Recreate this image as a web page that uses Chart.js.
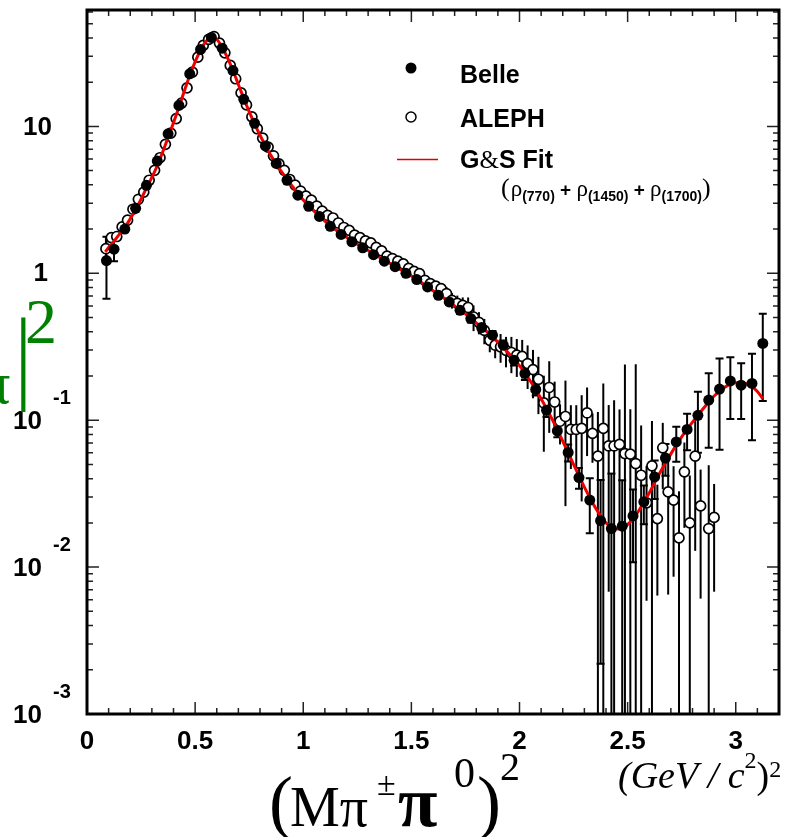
<!DOCTYPE html>
<html><head><meta charset="utf-8">
<script src="https://cdn.jsdelivr.net/npm/chart.js@4.4.0/dist/chart.umd.min.js"></script>
<style>html,body{margin:0;padding:0;background:#fff}#wrap{width:804px;height:837px;position:relative}</style>
</head><body><div id="wrap"><canvas id="c"></canvas></div>
<script>
// ---- data ----
const belleX = [0.09,0.125,0.175,0.225,0.275,0.325,0.375,0.425,0.475,0.525,0.575,0.625,0.675,0.725,0.775,0.825,0.875,0.925,0.975,1.025,1.075,1.125,1.175,1.225,1.275,1.325,1.375,1.425,1.475,1.525,1.575,1.625,1.675,1.725,1.775,1.825,1.875,1.925,1.975,2.025,2.075,2.125,2.175,2.225,2.275,2.325,2.375,2.425,2.475,2.525,2.575,2.625,2.675,2.725,2.775,2.825,2.875,2.925,2.975,3.025,3.075,3.125];
const belleY = [1.22,1.46,2.0,2.77,3.97,5.81,8.9,13.9,22.8,33.4,40.3,34.1,24.0,15.3,10.5,7.36,5.6,4.3,3.4,2.86,2.44,2.09,1.84,1.64,1.49,1.34,1.21,1.11,1.0,0.906,0.807,0.708,0.638,0.56,0.492,0.427,0.379,0.324,0.256,0.208,0.162,0.117,0.0845,0.0603,0.0407,0.0286,0.0207,0.0183,0.019,0.0223,0.0278,0.0411,0.0553,0.0711,0.0865,0.108,0.137,0.163,0.185,0.173,0.178,0.333];
const belleErr = [0.55,0.25,0.06,0.06,0.07,0.09,0.12,0.15,0.2,0.25,0.3,0.25,0.2,0.15,0.1,0.08,0.06,0.05,0.04,0.04,0.03,0.03,0.03,0.03,0.03,0.03,0.03,0.03,0.03,0.03,0.03,0.03,0.03,0.03,0.03,0.025,0.025,0.025,0.02,0.02,0.015,0.012,0.008,0.008,0.0066,0.0116,0.0185,0.025,0.02,0.0115,0.0082,0.012,0.0135,0.019,0.024,0.048,0.072,0.1,0.083,0.071,0.105,0.198];

const alephX = [0.0875,0.1125,0.1375,0.1625,0.1875,0.2125,0.2375,0.2625,0.2875,0.3125,0.3375,0.3625,0.3875,0.4125,0.4375,0.4625,0.4875,0.5125,0.5375,0.5625,0.5875,0.6125,0.6375,0.6625,0.6875,0.7125,0.7375,0.7625,0.7875,0.8125,0.8375,0.8625,0.8875,0.9125,0.9375,0.9625,0.9875,1.0125,1.0375,1.0625,1.0875,1.1125,1.1375,1.1625,1.1875,1.2125,1.2375,1.2625,1.2875,1.3125,1.3375,1.3625,1.3875,1.4125,1.4375,1.4625,1.4875,1.5125,1.5375,1.5625,1.5875,1.6125,1.6375,1.6625,1.6875,1.7125,1.7375,1.7625,1.7875,1.8125,1.8375,1.8625,1.8875,1.9125,1.9375,1.9625,1.9875,2.0125,2.0375,2.0625,2.0875,2.1125,2.1375,2.1625,2.1875,2.2125,2.2375,2.2625,2.2875,2.3125,2.3375,2.3625,2.3875,2.4125,2.4375,2.4625,2.4875,2.5125,2.5375,2.5625,2.5875,2.6125,2.6375,2.6625,2.6875,2.7125,2.7375,2.7625,2.7875,2.8125,2.8375,2.875,2.9];
const alephY = [1.47,1.75,1.78,2.07,2.30,2.73,3.19,3.57,4.30,5.02,6.12,7.55,9.0,11.3,14.4,18.3,23.4,29.6,35.6,39.1,40.9,36.9,31.7,26.0,21.1,16.9,14.0,11.6,9.64,8.32,7.23,6.31,5.55,5.02,4.35,3.98,3.63,3.35,3.15,2.87,2.65,2.48,2.38,2.2,2.05,1.96,1.82,1.75,1.66,1.61,1.50,1.42,1.31,1.26,1.21,1.16,1.08,1.03,0.995,0.896,0.851,0.817,0.787,0.728,0.655,0.625,0.605,0.585,0.504,0.464,0.409,0.35,0.324,0.316,0.299,0.289,0.277,0.272,0.243,0.221,0.19,0.131,0.167,0.133,0.0984,0.106,0.0865,0.0865,0.088,0.112,0.0813,0.0569,0.0879,0.0668,0.0668,0.0684,0.0593,0.0587,0.0507,0.0422,0.0274,0.0489,0.0214,0.0649,0.0325,0.0286,0.0158,0.0445,0.02,0.0569,0.0261,0.0183,0.0218];
const alephErr = [0.3,0.1,0.08,0.06,0.05,0.05,0.05,0.05,0.05,0.06,0.07,0.08,0.1,0.1,0.12,0.15,0.2,0.2,0.25,0.25,0.25,0.25,0.2,0.2,0.15,0.12,0.1,0.1,0.08,0.07,0.06,0.05,0.05,0.05,0.04,0.04,0.04,0.04,0.04,0.04,0.04,0.04,0.04,0.04,0.04,0.04,0.04,0.04,0.04,0.04,0.04,0.04,0.04,0.04,0.04,0.04,0.04,0.04,0.05,0.05,0.06,0.06,0.07,0.08,0.08,0.08,0.08,0.1,0.1,0.08,0.08,0.06,0.06,0.07,0.07,0.08,0.08,0.08,0.08,0.08,0.08,0.07,0.085,0.05,0.03,0.08,0.04,0.04,0.06,0.055,0.03,0.057,0.09,0.06,0.07,0.05,0.18,0.06,0.19,0.05,0.0215,0.05,0.015,0.031,0.026,0.02,0.017,0.026,0.022,0.044,0.02,0.031,0.015];

const fitX = [0.085,0.1,0.125,0.15,0.175,0.2,0.225,0.25,0.275,0.3,0.325,0.35,0.375,0.4,0.425,0.45,0.475,0.5,0.525,0.55,0.575,0.6,0.625,0.65,0.675,0.7,0.725,0.75,0.775,0.8,0.825,0.85,0.875,0.9,0.95,1.0,1.05,1.1,1.15,1.2,1.25,1.3,1.35,1.4,1.45,1.5,1.55,1.6,1.65,1.7,1.75,1.8,1.85,1.9,1.95,2.0,2.05,2.1,2.15,2.2,2.25,2.3,2.35,2.4,2.45,2.5,2.55,2.6,2.65,2.7,2.75,2.8,2.85,2.9,2.95,3.0,3.05,3.1,3.125];
const fitY = [1.40,1.50,1.65,1.85,2.05,2.35,2.72,3.2,3.8,4.5,5.4,6.7,8.4,10.6,13.5,17.4,22.2,27.5,33.0,37.8,40.3,39.2,34.5,29.3,24.0,19.3,15.5,12.6,10.4,8.7,7.4,6.35,5.55,4.9,3.9,3.15,2.65,2.27,1.98,1.76,1.58,1.43,1.29,1.17,1.06,0.96,0.86,0.76,0.68,0.6,0.53,0.46,0.4,0.34,0.285,0.235,0.185,0.14,0.102,0.072,0.05,0.035,0.0255,0.02,0.0182,0.0195,0.024,0.032,0.044,0.059,0.077,0.097,0.12,0.146,0.168,0.18,0.177,0.157,0.14];

const xTickLabels = ['0','0.5','1','1.5','2','2.5','3'];
const yTickValues = [10,1,0.1,0.01,0.001];
const yTickBase = ['10','1','10','10','10'];
const yTickExp = ['','','-1','-2','-3'];

// ---- build datasets ----
const pts = (xs, ys) => xs.map((v, i) => ({x: v, y: ys[i]}));

const SANS = '"Liberation Sans", Arial, sans-serif';
const SERIF = '"Liberation Serif", "Times New Roman", serif';

const errorBars = {
  id: 'errorBars',
  beforeDatasetsDraw(chart) {
    const {ctx, chartArea: a, scales: {x, y}} = chart;
    ctx.save();
    ctx.beginPath(); ctx.rect(a.left, a.top, a.right - a.left, a.bottom - a.top); ctx.clip();
    ctx.strokeStyle = '#000'; ctx.lineWidth = 2;
    const draw = (xs, ys, es, cap) => {
      xs.forEach((xv, i) => {
        const px = x.getPixelForValue(xv);
        const hi = y.getPixelForValue(ys[i] + es[i]);
        const loV = ys[i] - es[i];
        const lo = loV > 0 ? y.getPixelForValue(loV) : a.bottom + 20;
        ctx.beginPath(); ctx.moveTo(px, hi); ctx.lineTo(px, lo); ctx.stroke();
        if (cap) {
          ctx.beginPath();
          ctx.moveTo(px - 4, hi); ctx.lineTo(px + 4, hi);
          if (loV > 0) { ctx.moveTo(px - 4, lo); ctx.lineTo(px + 4, lo); }
          ctx.stroke();
        }
      });
    };
    draw(alephX, alephY, alephErr, false);
    draw(belleX, belleY, belleErr, true);
    ctx.restore();
  }
};

function drawRuns(ctx, runs, x0, baseline) {
  let xx = x0;
  runs.forEach(r => {
    ctx.font = r.f;
    ctx.fillText(r.t, xx, baseline + (r.dy || 0));
    xx += ctx.measureText(r.t).width + (r.gap || 0);
  });
  return xx;
}

const deco = {
  id: 'deco',
  afterDraw(chart) {
    const {ctx, chartArea: a, scales: {x, y}} = chart;
    ctx.save();
    // inner ticks
    ctx.strokeStyle = '#222'; ctx.lineWidth = 1.5;
    ctx.beginPath();
    for (let i = 1; i <= 31; i++) {
      const px = x.getPixelForValue(i / 10);
      const len = (i % 5 === 0) ? 12 : 6;
      ctx.moveTo(px, a.bottom); ctx.lineTo(px, a.bottom - len);
      ctx.moveTo(px, a.top); ctx.lineTo(px, a.top + len);
    }
    for (let e = -3; e <= 1; e++) {
      for (let m = 1; m <= 9; m++) {
        const v = m * Math.pow(10, e);
        if (v <= y.min * 1.0001 || v >= y.max) continue;
        const py = y.getPixelForValue(v);
        const len = m === 1 ? 12 : 6;
        ctx.moveTo(a.left, py); ctx.lineTo(a.left + len, py);
        ctx.moveTo(a.right, py); ctx.lineTo(a.right - len, py);
      }
    }
    ctx.stroke();
    // frame
    ctx.lineWidth = 3; ctx.strokeStyle = '#000';
    ctx.strokeRect(a.left, a.top, a.right - a.left, a.bottom - a.top);

    // y tick labels
    ctx.fillStyle = '#000';
    ctx.textBaseline = 'middle';
    yTickValues.forEach((v, i) => {
      const py = y.getPixelForValue(v);
      ctx.font = 'bold 26px ' + SANS;
      ctx.textAlign = 'right';
      if (yTickExp[i] === '') {
        ctx.fillText(yTickBase[i], i === 0 ? 52 : 48, py + 1);
      } else {
        ctx.fillText(yTickBase[i], 42, py + 2);
        ctx.font = 'bold 20px ' + SANS;
        ctx.textAlign = 'left';
        ctx.fillText(yTickExp[i], 53, py - 22);
      }
    });

    // legend
    ctx.textAlign = 'left'; ctx.textBaseline = 'alphabetic';
    ctx.fillStyle = '#000';
    ctx.beginPath(); ctx.arc(411, 68, 5.5, 0, Math.PI * 2); ctx.fill();
    ctx.beginPath(); ctx.arc(411, 117, 5, 0, Math.PI * 2);
    ctx.fillStyle = '#fff'; ctx.fill(); ctx.lineWidth = 1.5; ctx.strokeStyle = '#000'; ctx.stroke();
    ctx.strokeStyle = '#dd0000'; ctx.lineWidth = 1.3;
    ctx.beginPath(); ctx.moveTo(397, 159.5); ctx.lineTo(438, 159.5); ctx.stroke();
    ctx.fillStyle = '#000';
    ctx.font = 'bold 25px ' + SANS;
    ctx.fillText('Belle', 460, 83);
    ctx.fillText('ALEPH', 460, 127);
    drawRuns(ctx, [
      {t: 'G', f: 'bold 25px ' + SANS},
      {t: '&', f: '25px ' + SERIF},
      {t: 'S Fit', f: 'bold 25px ' + SANS}
    ], 460, 168);
    const rhoF = '23px ' + SERIF, subF = 'bold 14px ' + SANS, plusF = 'bold 19px ' + SANS;
    drawRuns(ctx, [
      {t: '(', f: '26px ' + SERIF, gap: 1},
      {t: 'ρ', f: rhoF},
      {t: '(770)', f: subF, dy: 5},
      {t: ' + ', f: plusF},
      {t: 'ρ', f: rhoF},
      {t: '(1450)', f: subF, dy: 5},
      {t: ' + ', f: plusF},
      {t: 'ρ', f: rhoF},
      {t: '(1700)', f: subF, dy: 5},
      {t: ')', f: '26px ' + SERIF}
    ], 501, 196);

    // y axis title (green, clipped at left edge)
    ctx.fillStyle = '#008000';
    ctx.font = '60px ' + SERIF;
    ctx.fillText('π', -20, 403);
    ctx.save();
    ctx.translate(15, 390);
    ctx.scale(0.8, 1);
    ctx.font = '104px ' + SERIF;
    ctx.fillText('|', 0, 0);
    ctx.restore();
    ctx.font = '64px ' + SERIF;
    ctx.fillText('2', 25, 343);

    // x axis title
    ctx.fillStyle = '#000';
    ctx.font = '72px ' + SERIF; ctx.fillText('(', 269, 826);
    ctx.font = '56px ' + SERIF; ctx.fillText('Mπ', 290, 826);
    ctx.font = '34px ' + SERIF; ctx.fillText('±', 377, 795);
    ctx.font = 'bold 72px ' + SERIF; ctx.fillText('π', 398, 826);
    ctx.font = '42px ' + SERIF; ctx.fillText('0', 454, 787);
    ctx.font = '72px ' + SERIF; ctx.fillText(')', 477, 826);
    ctx.font = '40px ' + SERIF; ctx.fillText('2', 500, 780);
    drawRuns(ctx, [
      {t: '(GeV / c', f: 'italic 38px ' + SERIF},
      {t: '2', f: '24px ' + SERIF, dy: -20},
      {t: ')', f: '38px ' + SERIF},
      {t: '2', f: '24px ' + SERIF, dy: -11}
    ], 618, 788);
    ctx.restore();
  }
};

new Chart(document.getElementById('c'), {
  type: 'line',
  data: {
    datasets: [
      {label: 'Belle', data: pts(belleX, belleY), showLine: false, pointStyle: 'circle',
       pointRadius: 5.5, pointBackgroundColor: '#000', pointBorderColor: '#000', pointBorderWidth: 0, order: 0},
      {label: 'G&S Fit', data: pts(fitX, fitY), borderColor: '#ee0000', borderWidth: 3,
       pointRadius: 0, fill: false, cubicInterpolationMode: 'monotone', order: 1},
      {label: 'ALEPH', data: pts(alephX, alephY), showLine: false, pointStyle: 'circle',
       pointRadius: 5, pointBackgroundColor: '#fff', pointBorderColor: '#000', pointBorderWidth: 1.7, order: 2}
    ]
  },
  options: {
    responsive: true, maintainAspectRatio: false, animation: false,
    layout: {padding: {top: 10, right: 25, left: 0, bottom: 0}},
    plugins: {legend: {display: false}, tooltip: {enabled: false}},
    scales: {
      x: {type: 'linear', min: 0, max: 3.2,
          grid: {display: false, drawTicks: false}, border: {display: false},
          ticks: {stepSize: 0.5, includeBounds: false, padding: 12, color: '#000',
                  font: {family: SANS, size: 26, weight: 'bold'}, maxRotation: 0,
                  callback: (v) => { const k = Math.round(v * 2); return (Math.abs(v * 2 - k) < 1e-6 && k >= 0 && k < xTickLabels.length) ? xTickLabels[k] : ''; }},
          afterFit: (s) => { s.height = 123; }},
      y: {type: 'logarithmic', min: 0.001, max: 62,
          grid: {display: false, drawTicks: false}, border: {display: false},
          ticks: {display: false},
          afterFit: (s) => { s.width = 87; }}
    }
  },
  plugins: [errorBars, deco]
});
</script>
</body></html>
